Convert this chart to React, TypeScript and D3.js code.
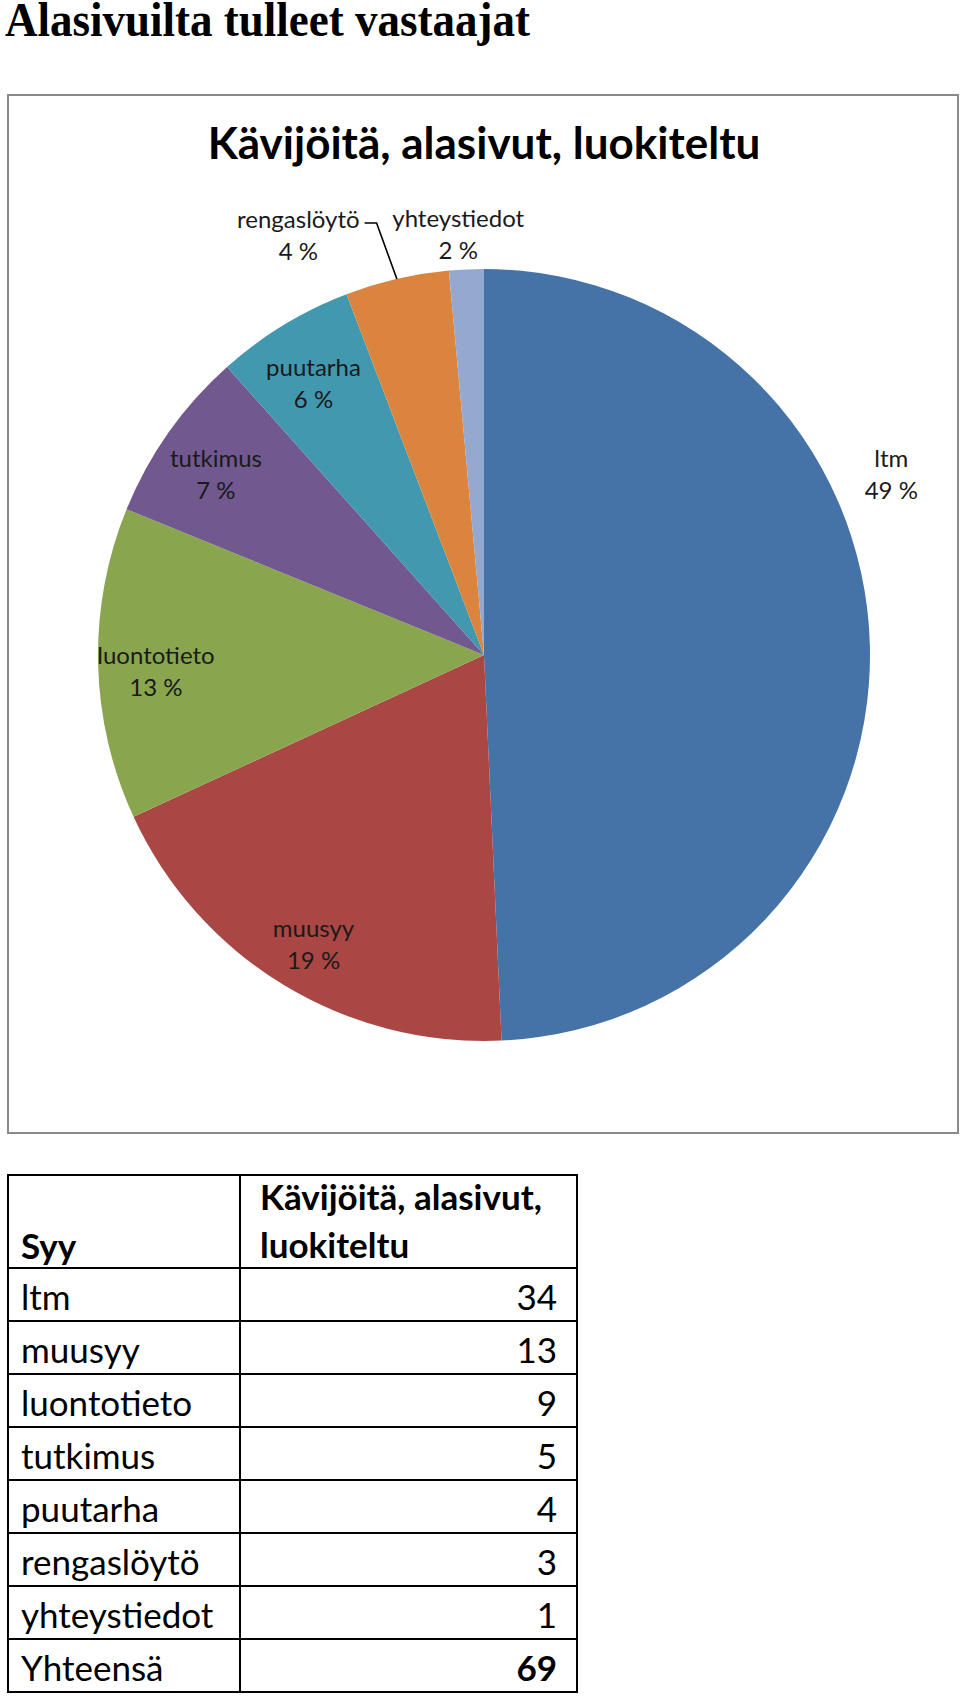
import React from 'react';
import * as d3 from 'd3';

// ---- data ----
const pageTitle = 'Alasivuilta tulleet vastaajat';
const chartTitle = 'Kävijöitä, alasivut, luokiteltu';
const categories = ['ltm', 'muusyy', 'luontotieto', 'tutkimus', 'puutarha', 'rengaslöytö', 'yhteystiedot'];
const counts = [34, 13, 9, 5, 4, 3, 1];
const sliceColors = ['#4572A7', '#AA4643', '#89A54E', '#71588F', '#4198AF', '#DB843D', '#93A9CF'];
const headerCol1 = 'Syy';
const headerCol2 = ['Kävijöitä, alasivut,', 'luokiteltu'];
const totalLabel = 'Yhteensä';

// ---- layout ----
const W = 960;
const H = 1698;
const frame = { x: 8, y: 95, w: 950, h: 1038 };
const cx = 484;
const cy = 655;
const R = 386;
const labelFont = '"Lato", "Open Sans", sans-serif';
const labelSize = 24;
const insideRadiusFactor = 0.85;
// Excel "best fit" moved these labels outside the pie
const labelOverrides: Record<string, { deg: number; rf: number; leader?: boolean }> = {
  ltm: { deg: 66, rf: 1.155 },
  'rengaslöytö': { deg: 336.2, rf: 1.192, leader: true },
  yhteystiedot: { deg: 356.5, rf: 1.093 },
};
const table = { x0: 8, x1: 240, x2: 577, top: 1175, headBottom: 1268, bottom: 1692 };

function largestRemainder(vals: number[]): number[] {
  const total = d3.sum(vals);
  const raw = vals.map((v) => (v / total) * 100);
  const fl = raw.map(Math.floor);
  let left = 100 - d3.sum(fl);
  const order = raw.map((r, i) => [r - Math.floor(r), i]).sort((a, b) => b[0] - a[0]);
  for (const [, i] of order) {
    if (left <= 0) break;
    fl[i] += 1;
    left -= 1;
  }
  return fl;
}

function measure(text: string, font: string): number {
  const c = document.createElement('canvas');
  const ctx = c.getContext('2d');
  if (!ctx) return text.length * 10;
  ctx.font = font;
  return ctx.measureText(text).width;
}

export default function App() {
  const pie = d3.pie<number>().sort(null).value((d) => d).startAngle(0).endAngle(2 * Math.PI);
  const arcs = pie(counts);
  const arcGen = d3.arc<d3.PieArcDatum<number>>().innerRadius(0).outerRadius(R);
  const pct = largestRemainder(counts);
  const total = d3.sum(counts);

  const polar = (a: number, r: number) => [cx + Math.sin(a) * r, cy - Math.cos(a) * r];

  const rowScale = d3.scaleLinear().domain([0, categories.length + 1]).range([table.headBottom, table.bottom]);
  const rows = [...categories.map((c, i) => ({ label: c, value: String(counts[i]), bold: false })), { label: totalLabel, value: String(total), bold: true }];

  const tableFont = '"Lato", "Open Sans", sans-serif';
  const tableSize = 35;

  return (
    <svg width={W} height={H} style={{ position: 'absolute', left: 0, top: 0, background: '#fff' }}>
      <rect x={0} y={0} width={W} height={H} fill="#fff" />
      <text
        transform="translate(5,36) scale(1,1.1)"
        x={0}
        y={0}
        fontFamily='"Liberation Serif", "Times New Roman", serif'
        fontWeight="bold"
        fontSize={45}
        fill="#000"
      >
        {pageTitle}
      </text>

      <rect x={frame.x} y={frame.y} width={frame.w} height={frame.h} fill="#fff" stroke="#8a8a8a" strokeWidth={2} />
      <text x={cx} y={159} textAnchor="middle" fontFamily={labelFont} fontWeight="bold" fontSize={44} fill="#000">
        {chartTitle}
      </text>

      <g transform={`translate(${cx},${cy})`}>
        {arcs.map((a, i) => (
          <path key={categories[i]} d={arcGen(a) || ''} fill={sliceColors[i]} />
        ))}
      </g>

      {arcs.map((a, i) => {
        const name = categories[i];
        const mid = (a.startAngle + a.endAngle) / 2;
        const ov = labelOverrides[name];
        const ang = ov ? (ov.deg * Math.PI) / 180 : mid;
        const rf = ov ? ov.rf : insideRadiusFactor;
        const [lx, ly0] = polar(ang, R * rf);
        const ly = ov ? ly0 : ly0 + 8;
        const line1 = ly - 16;
        const line2 = ly + 16;
        let leader = null;
        if (ov && ov.leader) {
          const w = measure(name, `${labelSize}px ${labelFont}`);
          const sx = lx + w / 2 + 5;
          const sy = line1 + 5;
          const [ex, ey] = polar(mid, R);
          leader = (
            <polyline points={`${sx},${sy} ${sx + 12},${sy} ${ex},${ey}`} fill="none" stroke="#000" strokeWidth={1.6} />
          );
        }
        return (
          <g key={`lab-${name}`}>
            {leader}
            <text x={lx} y={line1} textAnchor="middle" dominantBaseline="central" fontFamily={labelFont} fontSize={labelSize} fill="#1a1a1a">
              {name}
            </text>
            <text x={lx} y={line2} textAnchor="middle" dominantBaseline="central" fontFamily={labelFont} fontSize={labelSize} fill="#1a1a1a">
              {`${pct[i]} %`}
            </text>
          </g>
        );
      })}

      {/* table */}
      <g fontFamily={tableFont} fontSize={tableSize} fill="#000">
        <rect x={table.x0} y={table.top} width={table.x2 - table.x0} height={table.bottom - table.top} fill="none" stroke="#000" strokeWidth={2} />
        <line x1={table.x1} x2={table.x1} y1={table.top} y2={table.bottom} stroke="#000" strokeWidth={2} />
        {d3.range(0, rows.length).map((r) => (
          <line key={`hl${r}`} x1={table.x0} x2={table.x2} y1={rowScale(r)} y2={rowScale(r)} stroke="#000" strokeWidth={2} />
        ))}
        <text x={21} y={1259} fontWeight="bold">{headerCol1}</text>
        <text x={260} y={1210} fontWeight="bold">{headerCol2[0]}</text>
        <text x={260} y={1258} fontWeight="bold">{headerCol2[1]}</text>
        {rows.map((row, r) => (
          <g key={`row${r}`}>
            <text x={21} y={rowScale(r) + 42}>{row.label}</text>
            <text x={557} y={rowScale(r) + 42} textAnchor="end" fontWeight={row.bold ? 'bold' : 'normal'}>
              {row.value}
            </text>
          </g>
        ))}
      </g>
    </svg>
  );
}
